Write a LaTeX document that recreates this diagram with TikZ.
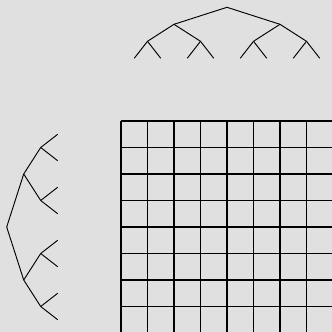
\documentclass[tikz,border=0pt]{standalone}
\usepackage{tikz}
\usetikzlibrary{positioning}
\definecolor{bg-gray}{HTML}{E0E0E0}

\begin{document}
\begin{tikzpicture}[
	x=0.75pt, y=-0.75pt,
	branch/.style={draw=black, line width=0.7pt},
	thinrule/.style={draw=black, line width=0.75pt},
	thickrule/.style={draw=black, line width=1.6pt},
	splittree/.style={
		level distance=12.75pt,
		level 1/.style={sibling distance=79.5pt},
		level 2/.style={sibling distance=39.75pt},
		level 3/.style={sibling distance=19.875pt},
		edge from parent/.style={branch}
	}
	]
	\fill[bg-gray] (0,0) rectangle (332,332);
	\useasboundingbox (0,0) rectangle (332,332);
	% tree over the columns
	\coordinate (colroot) at (227,7.3)
		[splittree, grow=down]
		child foreach \a in {0,1} {coordinate (col\a)
			child foreach \b in {0,1} {coordinate (col\a\b)
				child foreach \c in {0,1} {coordinate (col\a\b\c)}}};
	% tree beside the rows
	\coordinate (rowroot) at (6.7,227)
		[splittree, grow=right]
		child foreach \a in {0,1} {coordinate (row\a)
			child foreach \b in {0,1} {coordinate (row\a\b)
				child foreach \c in {0,1} {coordinate (row\a\b\c)}}};
	% the grid
	\foreach \i in {0,...,8} {
		\pgfmathsetmacro{\pos}{121+26.5*\i}
		\ifodd\i
			\draw[thinrule] (\pos,121) -- (\pos,333);
			\draw[thinrule] (121,\pos) -- (333,\pos);
		\else
			\draw[thickrule] (\pos,121) -- (\pos,333);
			\draw[thickrule] (121,\pos) -- (333,\pos);
		\fi
	}
\end{tikzpicture}
\end{document}
